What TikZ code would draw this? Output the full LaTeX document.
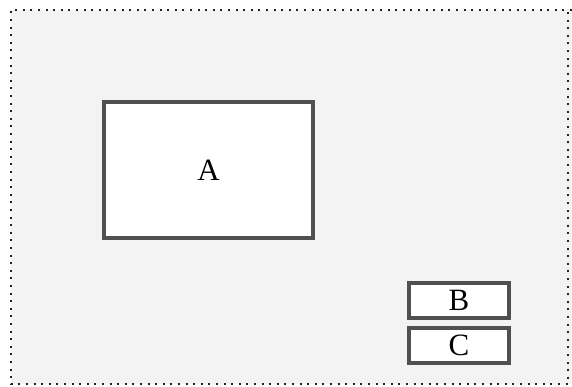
\documentclass[tikz,border=0pt]{standalone}
\usepackage{fontspec}
\setmainfont{Liberation Serif}
\usetikzlibrary{positioning}
\definecolor{panelgray}{HTML}{F3F3F3}
\definecolor{edgegray}{HTML}{505050}
\definecolor{dotink}{HTML}{222222}

\begin{document}
\begin{tikzpicture}[x=1pt,y=-1pt,
    blockbox/.style={draw=edgegray, line width=3.2pt, fill=white, inner sep=0pt,
      font=\fontsize{31}{35}\selectfont},
    dotframe/.style={draw=dotink, line width=2.4pt, dash pattern=on 2pt off 5.6pt}]
  \useasboundingbox (0,0) rectangle (572,386);
  \fill[white] (0,0) rectangle (572,386);

  % Frame
  \fill[panelgray] (11,10) rectangle (572,384);
  \draw[dotframe] (572,10) -- (11,10) -- (11,384) -- (568,384) -- (568,10);

  % Blocks
  \node[blockbox, minimum width=209pt, minimum height=136pt] (blockA) at (208.5,170) {A};
  \node[blockbox, minimum width=100pt, minimum height=35pt] (blockB) at (459,300.5) {B};
  \node[blockbox, minimum width=100pt, minimum height=35pt] (blockC) at (459,345.5) {C};
\end{tikzpicture}
\end{document}
